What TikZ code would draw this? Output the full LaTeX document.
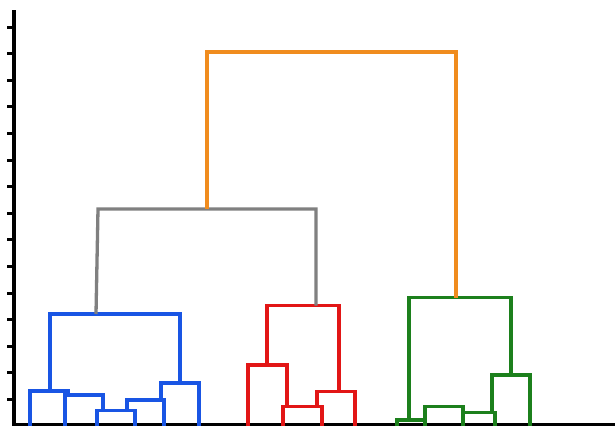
\documentclass[tikz,border=0pt]{standalone}
\usepackage{tikz}

\definecolor{clusterblue}{RGB}{25,85,228}
\definecolor{clusterred}{RGB}{226,22,22}
\definecolor{clustergreen}{RGB}{28,128,28}
\definecolor{mergegray}{RGB}{128,128,128}
\definecolor{mergeorange}{RGB}{240,140,30}

\begin{document}
\begin{tikzpicture}[
  x=1pt, y=-1pt,
  link/.style={line width=3.3pt, line join=miter},
  bluelink/.style={link, clusterblue},
  redlink/.style={link, clusterred},
  greenlink/.style={link, clustergreen},
  axisline/.style={line width=3.6pt, black},
]
\useasboundingbox (0,0) rectangle (615,426);

% axes
\draw[axisline] (14,10) -- (14,426);
\draw[line width=2.4pt] (14,424.5) -- (615,424.5);
\foreach \k in {1,...,15}
  \draw[line width=3pt] (7,426-26.6*\k) -- (14,426-26.6*\k);

% blue cluster
\draw[bluelink] (30,426) -- (30,391) -- (68,391) -- (68,395);
\draw[bluelink] (65,426) -- (65,395) -- (103,395) -- (103,410.5);
\draw[bluelink] (97,426) -- (97,410.5) -- (135,410.5) -- (135,426);
\draw[bluelink] (127,410.5) -- (127,400) -- (164,400) -- (164,426);
\draw[bluelink] (161,400) -- (161,383) -- (199,383) -- (199,426);
\draw[bluelink] (50,391) -- (50,314) -- (180,314) -- (180,383);

% red cluster
\draw[redlink] (248,426) -- (248,365) -- (287,365) -- (287,406.5);
\draw[redlink] (283,426) -- (283,406.5) -- (322,406.5) -- (322,426);
\draw[redlink] (317,406.5) -- (317,391.5) -- (355,391.5) -- (355,426);
\draw[redlink] (267,365) -- (267,305.5) -- (339,305.5) -- (339,391.5);

% green cluster
\draw[greenlink] (397,426) -- (397,420) -- (425,420) -- (425,426);
\draw[greenlink] (425,426) -- (425,406.5) -- (463,406.5) -- (463,426);
\draw[greenlink] (463,426) -- (463,412.5) -- (495,412.5) -- (495,426);
\draw[greenlink] (492,412.5) -- (492,375) -- (530,375) -- (530,426);
\draw[greenlink] (409,420) -- (409,297.5) -- (511,297.5) -- (511,375);

% upper merges
\draw[link, mergegray] (96,314) -- (98,209) -- (316,209) -- (316,305.5);
\draw[link, mergeorange] (207,209) -- (207,52) -- (456,52) -- (456,297.5);
\end{tikzpicture}
\end{document}
